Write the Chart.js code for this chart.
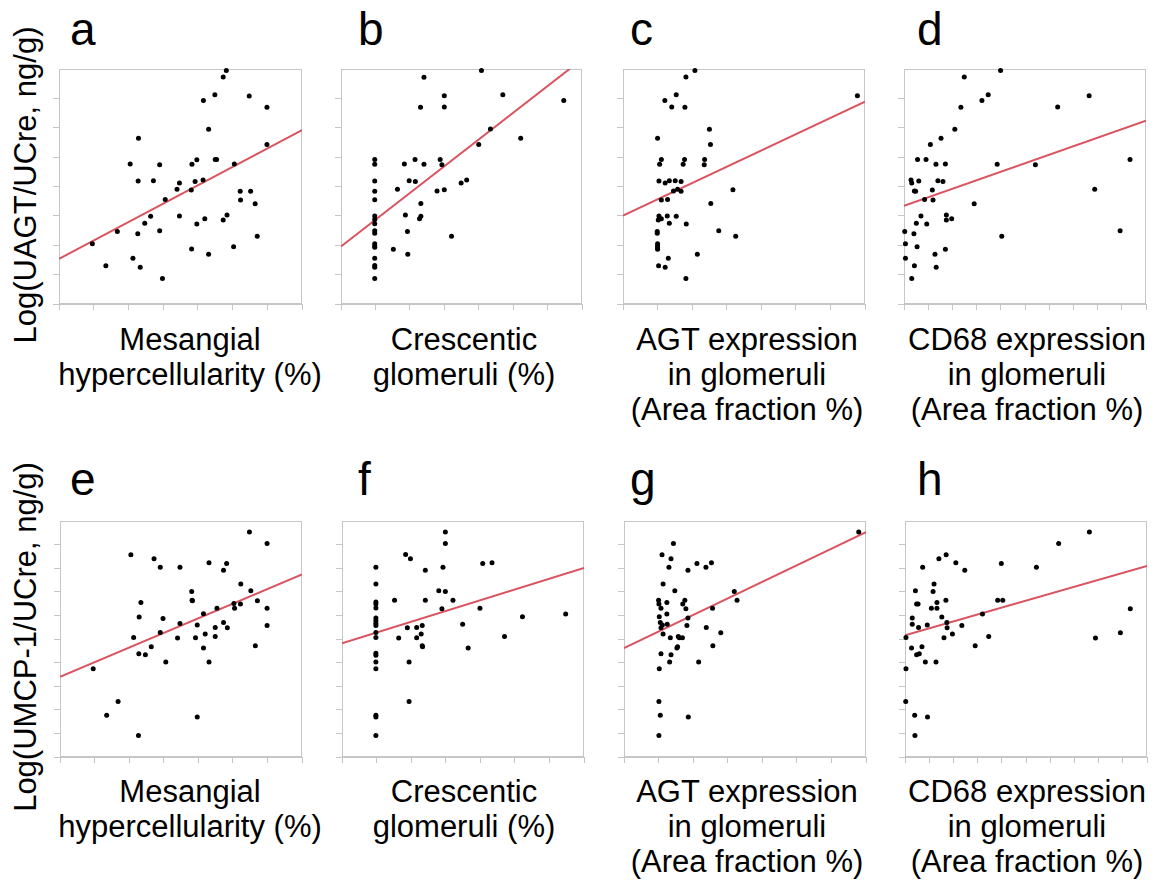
<!DOCTYPE html>
<html><head><meta charset="utf-8">
<script src="https://cdn.jsdelivr.net/npm/chart.js@4.4.1/dist/chart.umd.min.js"></script>
<style>
html,body{margin:0;padding:0;background:#fff;}
#fig{position:relative;width:1156px;height:883px;overflow:hidden;font-family:"Liberation Sans",Arial,sans-serif;color:#000;}
.letter{position:absolute;font-size:46px;line-height:46px;}
.xtitle{position:absolute;width:360px;text-align:center;font-size:31px;line-height:35px;white-space:nowrap;}
.ytitle{position:absolute;width:440px;text-align:center;font-size:31px;line-height:36px;white-space:nowrap;transform:rotate(-90deg);transform-origin:50% 50%;}
canvas{position:absolute;}
</style></head>
<body><div id="fig"></div>
<script>
// ---- labels ----
const panelLetters = ['a','b','c','d','e','f','g','h'];
const yTitles = ['Log(UAGT/UCre, ng/g)', 'Log(UMCP-1/UCre, ng/g)'];
const xTitles = [
  ['Mesangial', 'hypercellularity (%)'],
  ['Crescentic', 'glomeruli (%)'],
  ['AGT expression', 'in glomeruli', '(Area fraction %)'],
  ['CD68 expression', 'in glomeruli', '(Area fraction %)']
];
// axis ranges (no tick labels shown in the original, unit = one tick interval)
const xMaxByColumn = [7, 7, 7, 10];
const yMaxByRow = [8, 10];

// ---- data (tick-interval units) ----
const aX = [0.96,1.35,1.68,2.05,2.13,2.29,2.28,2.27,2.34,2.47,2.64,2.72,2.90,2.90,2.98,3.06,3.40,3.47,3.47,3.81,3.83,3.82,3.92,3.97,3.97,4.15,4.16,4.20,4.31,4.31,4.49,4.50,4.54,4.73,4.82,4.73,4.84,5.03,5.05,5.22,5.23,5.48,5.52,5.65,5.71,5.99,5.99];
const aY = [2.05,1.30,2.47,4.77,1.56,5.64,4.19,2.39,1.25,2.75,2.99,4.20,4.74,2.49,0.87,3.56,3.91,4.12,3.00,3.88,4.76,1.87,4.17,4.91,2.72,4.22,6.93,2.90,5.95,1.69,7.12,4.92,4.92,7.73,7.95,2.86,3.03,1.95,4.77,3.84,3.54,7.08,3.84,3.41,2.31,6.70,5.43];
const aFit = [1.54, 5.92];

const bX = [0.98,0.98,0.98,0.98,0.98,0.98,0.98,0.98,0.98,0.98,0.98,0.98,0.98,0.98,0.98,0.98,0.98,1.52,1.64,1.84,1.87,1.93,1.94,1.98,2.15,2.16,2.28,2.32,2.32,2.31,2.41,2.41,2.79,2.88,2.93,3.00,3.00,3.00,3.21,3.49,3.65,4.00,4.08,4.34,4.70,5.22,6.47];
const bY = [4.92,4.76,4.19,3.84,3.55,3.00,2.88,2.73,2.49,2.41,2.05,1.98,1.93,1.56,1.31,1.25,0.87,1.86,3.91,4.77,3.03,2.47,1.69,4.20,4.92,4.17,2.90,2.99,3.42,6.70,7.72,4.76,3.85,4.92,4.74,7.09,6.71,3.89,2.31,4.12,4.22,5.43,7.95,5.96,7.12,5.64,6.93];
const bFit = [1.96, 8.33];

const cX = [1.00,0.99,0.99,1.00,1.00,1.00,1.00,1.03,1.02,1.04,1.04,1.06,1.11,1.11,1.11,1.21,1.22,1.22,1.28,1.29,1.31,1.34,1.34,1.41,1.46,1.51,1.54,1.54,1.58,1.68,1.68,1.74,1.78,1.79,1.82,1.82,1.83,2.08,2.15,2.35,2.36,2.50,2.53,2.54,2.77,3.18,3.26,6.78];
const cY = [5.64,2.47,2.41,2.05,1.98,1.92,1.86,1.30,2.86,3.00,4.19,4.76,4.92,3.54,2.90,6.93,4.12,1.25,3.00,3.56,1.56,2.75,4.20,6.71,3.85,4.20,7.12,2.99,3.91,4.17,3.84,4.76,4.92,6.70,7.73,0.87,2.72,7.95,1.69,4.74,4.92,5.95,5.43,3.42,2.49,3.89,2.31,7.09];
const cFit = [3.01, 6.89];

const dX = [0.03,0.06,0.06,0.32,0.29,0.32,0.41,0.43,0.43,0.48,0.51,0.54,0.56,0.61,0.70,0.85,0.91,0.94,1.09,1.17,1.20,1.28,1.32,1.33,1.40,1.53,1.61,1.71,1.71,1.75,1.75,1.97,2.10,2.35,2.49,2.90,3.22,3.48,3.85,3.99,4.04,5.43,6.35,7.65,7.88,8.93,9.34];
const dY = [2.47,2.05,1.56,0.87,4.22,4.12,2.39,1.30,3.85,3.84,2.75,1.95,4.92,4.19,3.00,3.56,4.92,2.72,5.43,3.88,3.54,1.69,4.76,1.25,4.20,5.64,4.17,4.77,1.86,3.03,2.86,2.90,5.95,6.70,7.73,3.41,6.93,7.12,4.76,7.95,2.31,4.74,6.71,7.09,3.91,2.49,4.92];
const dFit = [3.34, 6.24];

const eX = [0.96,1.35,1.68,2.05,2.13,2.27,2.28,2.29,2.34,2.47,2.64,2.72,2.90,2.90,2.98,3.06,3.40,3.47,3.47,3.81,3.82,3.83,3.92,3.97,3.97,4.15,4.15,4.20,4.31,4.31,4.49,4.49,4.54,4.73,4.73,4.82,4.84,5.03,5.05,5.22,5.23,5.48,5.52,5.65,5.71,5.99,5.99,5.99];
const eY = [3.74,1.77,2.35,8.57,5.06,0.91,4.38,5.93,6.55,4.33,4.67,8.40,8.04,5.28,5.87,4.03,5.04,8.04,5.66,7.01,6.64,6.62,5.05,5.59,1.70,6.07,4.62,5.21,8.23,4.03,5.49,5.11,6.30,7.91,5.70,8.20,5.48,6.50,6.30,6.48,7.33,9.53,7.04,4.71,6.62,9.05,6.30,5.57];
const eFit = [3.40, 7.74];

const fX = [0.98,0.98,0.98,0.98,0.98,0.98,0.98,0.98,0.98,0.98,0.98,0.98,0.98,0.98,0.98,0.98,0.98,0.98,1.52,1.64,1.84,1.89,1.94,1.94,1.98,2.16,2.16,2.29,2.32,2.32,2.33,2.41,2.41,2.80,2.89,2.92,2.99,2.99,2.99,3.21,3.49,3.65,3.99,4.07,4.34,4.70,5.22,6.47];
const fY = [8.04,7.33,6.57,6.48,6.31,5.89,5.77,5.67,5.57,5.28,5.06,4.40,4.31,4.03,3.74,1.77,1.69,0.91,6.64,5.04,8.58,5.48,4.03,2.35,8.40,5.49,5.05,5.21,5.57,4.71,4.67,7.91,6.64,7.04,6.28,8.04,9.53,9.05,7.01,6.64,5.63,4.62,6.30,8.20,8.23,5.11,5.94,6.06];
const fFit = [4.82, 8.01];

const gX = [1.02,1.01,1.01,1.05,1.00,1.01,1.02,1.05,1.07,1.07,1.07,1.10,1.11,1.13,1.13,1.24,1.24,1.25,1.30,1.32,1.34,1.36,1.36,1.43,1.47,1.53,1.55,1.57,1.60,1.69,1.70,1.76,1.79,1.82,1.85,1.85,1.86,2.11,2.16,2.37,2.38,2.53,2.56,2.57,2.80,3.19,3.27,6.79];
const gY = [3.74,2.35,0.91,1.77,6.64,6.48,5.94,5.70,6.30,5.48,4.38,8.57,5.59,5.21,7.33,6.55,6.06,5.63,8.04,4.03,5.05,8.40,4.33,9.05,7.04,4.62,4.67,5.11,5.05,5.05,6.48,6.64,6.28,5.57,7.91,5.89,1.70,8.20,4.03,8.04,5.49,8.23,6.30,4.71,5.26,7.01,6.64,9.53];
const gFit = [4.61, 9.53];

const hX = [0.03,0.04,0.04,0.27,0.30,0.30,0.40,0.41,0.43,0.48,0.48,0.54,0.56,0.59,0.70,0.73,0.84,0.92,0.93,1.09,1.16,1.20,1.28,1.32,1.32,1.40,1.52,1.61,1.69,1.70,1.73,1.74,1.96,2.10,2.35,2.47,2.90,3.20,3.46,3.83,4.04,3.98,5.43,6.35,7.62,7.87,8.90,9.31];
const hY = [2.35,5.06,3.74,4.62,5.63,5.89,1.77,0.91,7.04,4.33,6.48,6.48,5.49,4.38,4.67,8.04,4.03,5.59,1.70,6.30,7.01,7.33,4.03,6.55,6.30,8.40,5.93,5.05,6.64,8.57,5.70,5.48,5.21,8.23,5.57,7.91,4.71,6.06,5.11,6.64,6.64,8.20,8.04,9.05,9.53,5.04,5.26,6.28];
const hFit = [5.16, 8.09];

// ---- layout (pixel boxes of the plot frames: left, top, right, bottom) ----
const frameBoxes = [
  [59,69,302,304],[341,69,582,304],[623,69,865,304],[904,69,1146,304],
  [60,521,302,757],[342,521,584,757],[624,521,866,757],[905,521,1147,757]
];
const letterLeft = [70, 358, 630, 917];
const letterTop = [6, 456];
const xTitleCenter = [190, 464, 747, 1027];
const xTitleTop = [322, 774];
const yTitleCenter = [[26, 185], [26, 637]];

const FRAME = '#c6c6c6';
const DOT = '#000000';
const FIT = '#d9545f';

const seriesX = [aX,bX,cX,dX,eX,fX,gX,hX];
const seriesY = [aY,bY,cY,dY,eY,fY,gY,hY];
const fits = [aFit,bFit,cFit,dFit,eFit,fFit,gFit,hFit];

const fig = document.getElementById('fig');

const framePlugin = {
  id: 'frame',
  beforeDatasetsDraw(chart) {
    const {ctx, chartArea: a} = chart;
    ctx.save();
    ctx.strokeStyle = FRAME;
    ctx.lineWidth = 1;
    ctx.strokeRect(Math.round(a.left) + 0.5, Math.round(a.top) + 0.5,
                   Math.round(a.right - a.left) - 1, Math.round(a.bottom - a.top) - 1);
    ctx.restore();
  }
};

function addDiv(cls, html, css) {
  const d = document.createElement('div');
  d.className = cls;
  d.innerHTML = html;
  Object.assign(d.style, css);
  fig.appendChild(d);
  return d;
}

for (let i = 0; i < 8; i++) {
  const row = Math.floor(i / 4), col = i % 4;
  const [L, T, R, B] = frameBoxes[i];
  const tick = 6, padT = 5, padR = 5, padB = 3;
  const W = R - L + tick + padR, H = B - T + padT + tick + padB;
  const cv = document.createElement('canvas');
  cv.width = W; cv.height = H;
  cv.style.left = (L - tick) + 'px';
  cv.style.top = (T - padT) + 'px';
  cv.style.width = W + 'px'; cv.style.height = H + 'px';
  fig.appendChild(cv);

  const xMax = xMaxByColumn[col], yMax = yMaxByRow[row];
  const xs = seriesX[i], ys = seriesY[i], fit = fits[i];

  new Chart(cv, {
    type: 'scatter',
    data: {
      datasets: [
        {
          data: xs.map((x, k) => ({x: x, y: ys[k]})),
          pointRadius: 2.5,
          pointBackgroundColor: DOT,
          pointBorderWidth: 0,
          clip: false,
          order: 1
        },
        {
          type: 'line',
          data: [{x: 0, y: fit[0]}, {x: xMax, y: fit[1]}],
          borderColor: FIT,
          borderWidth: 2,
          pointRadius: 0,
          fill: false,
          clip: 0,
          order: 2
        }
      ]
    },
    options: {
      responsive: false,
      animation: false,
      events: [],
      layout: {padding: {top: padT, right: padR, bottom: padB, left: 0}, autoPadding: false},
      plugins: {legend: {display: false}, tooltip: {enabled: false}, title: {display: false}},
      scales: {
        x: {
          type: 'linear', min: 0, max: xMax,
          ticks: {display: false, stepSize: 1},
          grid: {drawOnChartArea: false, drawTicks: true, tickLength: tick, color: FRAME, lineWidth: 1},
          border: {display: true, color: FRAME, width: 1}
        },
        y: {
          type: 'linear', min: 0, max: yMax,
          ticks: {display: false, stepSize: 1},
          afterBuildTicks: (s) => { s.ticks = s.ticks.filter(t => t.value < yMax); },
          grid: {drawOnChartArea: false, drawTicks: true, tickLength: tick, color: FRAME, lineWidth: 1},
          border: {display: true, color: FRAME, width: 1}
        }
      }
    },
    plugins: [framePlugin]
  });

  addDiv('letter', panelLetters[i], {left: letterLeft[col] + 'px', top: letterTop[row] + 'px'});
  addDiv('xtitle', xTitles[col].join('<br>'), {left: (xTitleCenter[col] - 180) + 'px', top: xTitleTop[row] + 'px'});
}

yTitles.forEach((t, r) => {
  const [cx, cy] = yTitleCenter[r];
  addDiv('ytitle', t, {left: (cx - 220) + 'px', top: (cy - 18) + 'px'});
});
</script>
</body></html>
